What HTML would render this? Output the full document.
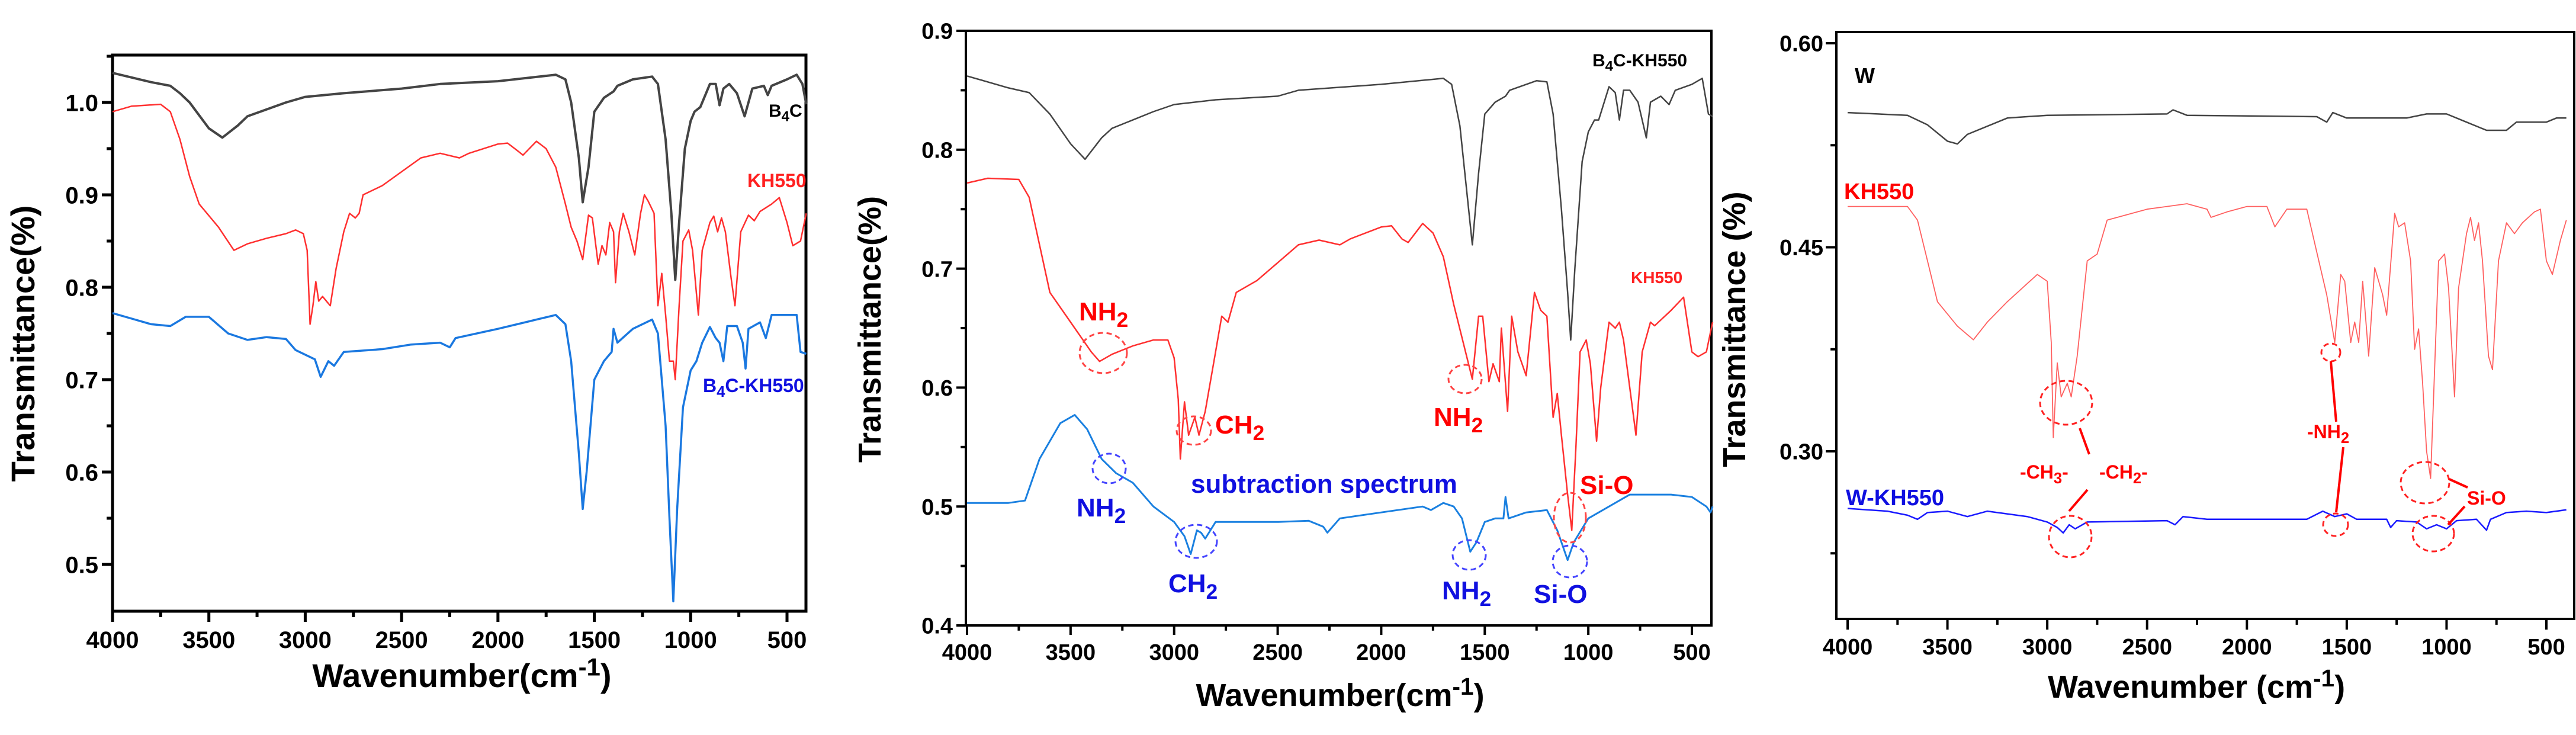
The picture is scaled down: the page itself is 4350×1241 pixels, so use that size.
<!DOCTYPE html>
<html><head><meta charset="utf-8"><style>
html,body{margin:0;padding:0;background:#fff}
svg{display:block}
text{font-family:"Liberation Sans",sans-serif;font-weight:bold}
</style></head><body>
<svg id="fig" xmlns="http://www.w3.org/2000/svg" width="4350" height="1241" viewBox="0 0 4350 1241">
<g id="p1"></g>
<g id="p2"></g>
<g id="p3"></g>
</svg>
<script>
// ---------- data ----------
const xTicks = [4000,3500,3000,2500,2000,1500,1000,500];
const p1YTicks = [0.5,0.6,0.7,0.8,0.9,1.0];
const p1YLabels = ["0.5","0.6","0.7","0.8","0.9","1.0"];
const p2YTicks = [0.4,0.5,0.6,0.7,0.8,0.9];
const p2YLabels = ["0.4","0.5","0.6","0.7","0.8","0.9"];
const p3YTicks = [0.30,0.45,0.60];
const p3YLabels = ["0.30","0.45","0.60"];

const p1B4C = [[4000,1.032],[3800,1.022],[3700,1.018],[3650,1.01],[3600,1.0],[3500,0.972],[3430,0.962],[3350,0.975],[3300,0.985],[3100,1.0],[3000,1.006],[2800,1.01],[2500,1.015],[2300,1.02],[2000,1.023],[1700,1.03],[1650,1.025],[1620,1.0],[1580,0.94],[1560,0.892],[1530,0.93],[1500,0.99],[1450,1.005],[1400,1.012],[1380,1.018],[1300,1.025],[1200,1.028],[1170,1.02],[1130,0.96],[1100,0.88],[1080,0.808],[1060,0.87],[1030,0.95],[1000,0.98],[980,0.99],[950,0.995],[900,1.02],[870,1.02],[850,0.997],[830,1.015],[800,1.02],[760,1.01],[720,0.985],[700,1.0],[680,1.015],[620,1.018],[600,1.008],[580,1.018],[500,1.025],[450,1.03],[420,1.02],[400,0.998]];
const p1KH = [[4000,0.99],[3900,0.996],[3750,0.998],[3700,0.99],[3650,0.96],[3600,0.92],[3550,0.89],[3450,0.865],[3370,0.84],[3300,0.847],[3200,0.853],[3100,0.858],[3050,0.862],[3010,0.858],[2990,0.84],[2975,0.76],[2960,0.78],[2945,0.806],[2930,0.785],[2910,0.79],[2890,0.785],[2870,0.78],[2840,0.82],[2800,0.86],[2770,0.88],[2740,0.875],[2720,0.88],[2700,0.9],[2600,0.91],[2500,0.925],[2400,0.94],[2300,0.945],[2200,0.94],[2150,0.945],[2000,0.955],[1950,0.956],[1900,0.948],[1870,0.943],[1800,0.958],[1750,0.95],[1700,0.93],[1650,0.89],[1620,0.865],[1590,0.85],[1560,0.83],[1530,0.878],[1510,0.875],[1480,0.825],[1460,0.845],[1440,0.835],[1420,0.87],[1400,0.86],[1390,0.805],[1370,0.86],[1350,0.88],[1320,0.86],[1290,0.835],[1260,0.88],[1240,0.9],[1220,0.893],[1190,0.88],[1170,0.78],[1150,0.815],[1130,0.77],[1110,0.72],[1090,0.72],[1080,0.7],[1060,0.78],[1040,0.85],[1010,0.862],[990,0.84],[960,0.77],[940,0.84],[900,0.87],[880,0.877],[860,0.86],[840,0.875],[820,0.86],[790,0.81],[770,0.78],[740,0.86],[700,0.878],[670,0.872],[640,0.882],[580,0.89],[540,0.897],[500,0.87],[470,0.845],[430,0.85],[400,0.88]];
const p1Mix = [[4000,0.772],[3900,0.766],[3800,0.76],[3700,0.758],[3620,0.768],[3500,0.768],[3400,0.75],[3300,0.743],[3200,0.746],[3100,0.744],[3050,0.732],[2950,0.722],[2920,0.703],[2880,0.72],[2850,0.715],[2800,0.73],[2600,0.733],[2450,0.738],[2300,0.74],[2250,0.735],[2220,0.745],[2000,0.755],[1800,0.765],[1700,0.77],[1650,0.76],[1620,0.72],[1580,0.62],[1560,0.56],[1540,0.6],[1500,0.7],[1450,0.72],[1410,0.73],[1400,0.755],[1380,0.74],[1300,0.755],[1200,0.765],[1170,0.75],[1130,0.65],[1110,0.55],[1090,0.46],[1070,0.56],[1040,0.67],[1000,0.71],[970,0.72],[940,0.74],[900,0.757],[870,0.745],[850,0.74],[830,0.72],[810,0.758],[760,0.758],[730,0.74],[715,0.712],[700,0.755],[640,0.762],[610,0.745],[580,0.77],[500,0.77],[450,0.77],[430,0.73],[400,0.728]];

const p2Mix = [[4000,0.862],[3800,0.852],[3700,0.848],[3600,0.83],[3500,0.805],[3430,0.792],[3350,0.81],[3300,0.818],[3100,0.832],[3000,0.838],[2800,0.842],[2500,0.845],[2400,0.85],[2000,0.855],[1700,0.86],[1660,0.855],[1620,0.82],[1590,0.77],[1560,0.72],[1530,0.78],[1500,0.83],[1450,0.84],[1400,0.845],[1380,0.85],[1250,0.858],[1200,0.857],[1170,0.83],[1130,0.75],[1100,0.68],[1085,0.64],[1065,0.7],[1030,0.79],[1000,0.815],[970,0.825],[950,0.825],[900,0.853],[870,0.848],[850,0.825],[830,0.85],[800,0.85],[760,0.84],[720,0.81],[700,0.84],[650,0.845],[610,0.838],[580,0.85],[500,0.855],[450,0.86],[420,0.83],[400,0.828]];
const p2KH = [[4000,0.772],[3900,0.776],[3750,0.775],[3700,0.76],[3650,0.72],[3600,0.68],[3500,0.655],[3400,0.63],[3360,0.622],[3300,0.628],[3200,0.635],[3100,0.64],[3030,0.64],[3000,0.625],[2980,0.59],[2970,0.54],[2950,0.588],[2930,0.56],[2900,0.575],[2880,0.56],[2850,0.58],[2800,0.63],[2770,0.66],[2740,0.655],[2700,0.68],[2600,0.69],[2500,0.705],[2400,0.72],[2300,0.724],[2200,0.72],[2150,0.725],[2000,0.735],[1950,0.736],[1900,0.725],[1870,0.722],[1800,0.738],[1750,0.73],[1700,0.71],[1650,0.67],[1600,0.635],[1560,0.607],[1530,0.66],[1510,0.66],[1480,0.605],[1460,0.62],[1430,0.605],[1420,0.65],[1390,0.58],[1370,0.66],[1340,0.63],[1300,0.61],[1260,0.68],[1230,0.665],[1200,0.66],[1170,0.575],[1150,0.595],[1130,0.56],[1100,0.51],[1080,0.48],[1060,0.55],[1040,0.63],[1010,0.64],[990,0.62],[960,0.555],[940,0.6],[900,0.655],[870,0.65],[850,0.655],[830,0.64],[800,0.6],[770,0.56],[740,0.63],[700,0.655],[680,0.652],[600,0.665],[540,0.676],[500,0.63],[470,0.626],[430,0.63],[400,0.655]];
const p2Sub = [[4000,0.503],[3800,0.503],[3720,0.505],[3650,0.54],[3550,0.57],[3480,0.577],[3420,0.565],[3350,0.54],[3280,0.528],[3200,0.52],[3100,0.5],[3000,0.487],[2950,0.475],[2920,0.46],[2890,0.48],[2870,0.478],[2850,0.473],[2800,0.487],[2500,0.487],[2350,0.488],[2280,0.483],[2260,0.478],[2200,0.49],[2000,0.495],[1800,0.5],[1760,0.497],[1700,0.503],[1650,0.5],[1610,0.49],[1570,0.462],[1540,0.47],[1500,0.487],[1450,0.49],[1410,0.49],[1400,0.508],[1385,0.49],[1300,0.495],[1200,0.497],[1150,0.48],[1100,0.455],[1070,0.47],[1000,0.49],[900,0.5],[800,0.51],[700,0.51],[600,0.51],[500,0.508],[430,0.5],[410,0.495],[400,0.5]];

const p3W = [[4000,0.549],[3700,0.547],[3600,0.54],[3500,0.528],[3450,0.526],[3400,0.533],[3200,0.545],[3000,0.547],[2400,0.548],[2370,0.551],[2300,0.547],[1650,0.546],[1600,0.542],[1570,0.549],[1500,0.545],[1200,0.545],[1100,0.548],[1000,0.548],[900,0.542],[800,0.536],[700,0.536],[650,0.542],[500,0.542],[450,0.545],[400,0.545]];
const p3KH = [[4000,0.48],[3700,0.48],[3650,0.47],[3600,0.44],[3550,0.41],[3450,0.392],[3370,0.382],[3300,0.395],[3200,0.41],[3050,0.43],[3000,0.425],[2980,0.38],[2970,0.31],[2950,0.365],[2930,0.34],[2900,0.35],[2880,0.34],[2850,0.37],[2800,0.44],[2750,0.445],[2700,0.47],[2500,0.478],[2400,0.48],[2300,0.482],[2200,0.478],[2180,0.472],[2100,0.476],[2000,0.48],[1900,0.48],[1860,0.465],[1800,0.478],[1700,0.478],[1640,0.44],[1600,0.415],[1560,0.38],[1530,0.43],[1510,0.425],[1480,0.38],[1460,0.395],[1440,0.38],[1420,0.425],[1390,0.37],[1360,0.435],[1320,0.415],[1300,0.4],[1260,0.475],[1240,0.465],[1210,0.468],[1180,0.44],[1160,0.375],[1140,0.39],[1120,0.35],[1100,0.3],[1080,0.28],[1060,0.36],[1040,0.44],[1010,0.445],[990,0.42],[960,0.34],[940,0.42],[900,0.46],[880,0.472],[860,0.455],[840,0.468],[820,0.44],[790,0.37],[770,0.36],[740,0.44],[700,0.468],[660,0.46],[620,0.468],[560,0.476],[530,0.478],[500,0.44],[470,0.43],[430,0.455],[400,0.47]];
const p3WK = [[4000,0.258],[3800,0.256],[3700,0.253],[3650,0.25],[3600,0.255],[3500,0.256],[3400,0.252],[3300,0.256],[3100,0.252],[3000,0.248],[2950,0.244],[2920,0.24],[2890,0.246],[2860,0.243],[2800,0.248],[2400,0.249],[2360,0.246],[2320,0.252],[2200,0.25],[1700,0.25],[1620,0.256],[1560,0.252],[1500,0.254],[1450,0.25],[1300,0.25],[1280,0.244],[1250,0.249],[1150,0.248],[1100,0.243],[1050,0.246],[1000,0.243],[950,0.249],[850,0.25],[800,0.242],[780,0.25],[700,0.255],[600,0.256],[500,0.255],[400,0.257]];

// ---------- helpers ----------
const NS='http://www.w3.org/2000/svg';
function mk(parent,tag,attrs,txt){const e=document.createElementNS(NS,tag);for(const k in attrs)e.setAttribute(k,attrs[k]);if(txt!==undefined)e.textContent=txt;parent.appendChild(e);return e;}
function scale(d0,d1,r0,r1){return v=>r0+(v-d0)*(r1-r0)/(d1-d0);}

function axes(g,c){
  const X=c.X,Y=c.Y;
  const frame=mk(g,'rect',{x:c.L,y:c.T,width:c.R-c.L,height:c.B-c.T,fill:'none',stroke:'#000','stroke-width':c.sw});
  
  
  xTicks.forEach(t=>{
    const x=X(t);
    const tk=mk(g,'line',{x1:x,x2:x,y1:c.B,y2:c.B+c.tl,stroke:'#000','stroke-width':c.sw});
    
    
    const lb=mk(g,'text',{x:x,y:c.B+c.xlo,'text-anchor':'middle','font-size':c.fs},String(t));
    
    
    const xm=X(t-250);
    if(xm<=c.R){const m=mk(g,'line',{x1:xm,x2:xm,y1:c.B,y2:c.B+c.tl*0.55,stroke:'#000','stroke-width':c.sw});
      
      }
  });
  c.yt.forEach((t,i)=>{
    const y=Y(t);
    const tk=mk(g,'line',{x1:c.L-c.tl,x2:c.L,y1:y,y2:y,stroke:'#000','stroke-width':c.sw});
    
    
    const lb=mk(g,'text',{x:c.L-c.ylo,y:y+c.fs*0.36,'text-anchor':'end','font-size':c.fs},c.yl[i]);
    
    
  });
  c.ym.forEach(t=>{const y=Y(t);if(y<c.T||y>c.B)return;
    const m=mk(g,'line',{x1:c.L-c.tl*0.55,x2:c.L,y1:y,y2:y,stroke:'#000','stroke-width':c.sw});
    
    });
}
function series(g,c,data,color,w,name){
  const d=data.map((p,i)=>(i?'L':'M')+c.X(p[0]).toFixed(1)+' '+c.Y(p[1]).toFixed(1)).join(' ');
  const p=mk(g,'path',{d:d,fill:'none',stroke:color,'stroke-width':w,'stroke-linejoin':'round'});
  
  
}
function label(g,x,y,fs,color,main,sub,tail,name,anchor){
  const t=mk(g,'text',{x:x,y:y,'font-size':fs,fill:color,'text-anchor':anchor||'start'});
  
  
  mk(t,'tspan',{},main);
  if(sub){mk(t,'tspan',{dy:fs*0.25,'font-size':fs*0.8},sub);}
  if(tail){mk(t,'tspan',{dy:sub?-fs*0.25:0},tail);}
  return t;
}
function circ(g,cx,cy,rx,ry,color,name){
  const e=mk(g,'ellipse',{cx:cx,cy:cy,rx:rx,ry:ry,fill:'none',stroke:color,'stroke-width':3,'stroke-dasharray':'9 6'});
  
  
}
function seg(g,x1,y1,x2,y2,name){
  const l=mk(g,'line',{x1:x1,y1:y1,x2:x2,y2:y2,stroke:'#f00','stroke-width':4});
  
  
}
function titles(g,xt,yt,fs,xtext,ytext){
  const xtl=mk(g,'text',{x:xt[0],y:xt[1],'text-anchor':'middle','font-size':fs});
  
  
  mk(xtl,'tspan',{},xtext);mk(xtl,'tspan',{dy:-fs*0.35,'font-size':fs*0.75},'-1');mk(xtl,'tspan',{dy:fs*0.35},')');
  const ytl=mk(g,'text',{x:0,y:0,'text-anchor':'middle','font-size':fs,transform:`translate(${yt[0]},${yt[1]}) rotate(-90)`},ytext);
  
  
}

// ---------- panel 1 ----------
(function(){
  const g=document.getElementById('p1');
  const c={L:190,R:1361,T:93,B:1032,sw:5,tl:18,fs:40,xlo:62,ylo:24,yt:p1YTicks,yl:p1YLabels,ym:[0.55,0.65,0.75,0.85,0.95,1.05]};
  c.X=scale(4000,500,190,1329);c.Y=scale(1.0,0.5,173,953);
  axes(g,c);
  series(g,c,p1B4C,'#444',4,'series-b4c');
  series(g,c,p1KH,'#ff3030',2.5,'series-kh550');
  series(g,c,p1Mix,'#1a78e0',3.5,'series-b4c-kh550');
  label(g,1298,197,30,'#000','B','4','C','label-b4c');
  label(g,1262,316,32,'#ff2020','KH550','','','label-kh550');
  label(g,1187,662,32,'#1010e0','B','4','C-KH550','label-b4c-kh550');
  titles(g,[780,1160],[58,580],56,'Wavenumber(cm','Transmittance(%)');
})();

// ---------- panel 2 ----------
(function(){
  const g=document.getElementById('p2');
  const c={L:1631,R:2890,T:52,B:1056,sw:4,tl:16,fs:38,xlo:58,ylo:22,yt:p2YTicks,yl:p2YLabels,ym:[0.45,0.55,0.65,0.75,0.85]};
  c.X=scale(4000,500,1633,2857);c.Y=scale(0.9,0.4,52,1056);
  axes(g,c);
  series(g,c,p2Mix,'#444',2.5,'series-b4c-kh550');
  series(g,c,p2KH,'#ff3030',2.5,'series-kh550');
  series(g,c,p2Sub,'#1a80e0',3,'series-subtraction');
  label(g,2689,112,30,'#000','B','4','C-KH550','label-b4c-kh550');
  label(g,2754,478,28,'#ff2020','KH550','','','label-kh550');
  label(g,1822,541,44,'#f00','NH','2','','annot-nh2-red-1');
  circ(g,1863,596,40,34,'#f44','circle-nh2-red-1');
  label(g,2052,732,44,'#f00','CH','2','','annot-ch2-red');
  circ(g,2016,727,29,24,'#f44','circle-ch2-red');
  label(g,2421,719,44,'#f00','NH','2','','annot-nh2-red-2');
  circ(g,2474,640,28,24,'#f44','circle-nh2-red-2');
  label(g,2668,834,44,'#f00','Si-O','','','annot-sio-red');
  circ(g,2651,874,27,42,'#f44','circle-sio-red');
  label(g,1818,872,44,'#1010e0','NH','2','','annot-nh2-blue-1');
  circ(g,1873,791,28,25,'#44f','circle-nh2-blue-1');
  label(g,2011,832,44,'#1010e0','subtraction spectrum','','','annot-subtraction');
  label(g,1973,1000,44,'#1010e0','CH','2','','annot-ch2-blue');
  circ(g,2020,914,35,28,'#44f','circle-ch2-blue');
  label(g,2435,1012,44,'#1010e0','NH','2','','annot-nh2-blue-2');
  circ(g,2481,937,28,25,'#44f','circle-nh2-blue-2');
  label(g,2590,1018,44,'#1010e0','Si-O','','','annot-sio-blue');
  circ(g,2651,948,29,27,'#44f','circle-sio-blue');
  titles(g,[2263,1192],[1487,556],54,'Wavenumber(cm','Transmittance(%)');
})();

// ---------- panel 3 ----------
(function(){
  const g=document.getElementById('p3');
  const c={L:3101,R:4347,T:54,B:1045,sw:4,tl:18,fs:38,xlo:60,ylo:22,yt:p3YTicks,yl:p3YLabels,ym:[0.225,0.375,0.525]};
  c.X=scale(4000,500,3120,4300);c.Y=scale(0.60,0.30,73,762);
  axes(g,c);
  series(g,c,p3W,'#444',2.5,'series-w');
  series(g,c,p3KH,'#ff6060',1.8,'series-kh550');
  series(g,c,p3WK,'#1a1aff',2.5,'series-w-kh550');
  label(g,3132,140,36,'#000','W','','','label-w');
  label(g,3114,336,38,'#f00','KH550','','','label-kh550');
  label(g,3117,853,38,'#1010e0','W-KH550','','','label-w-kh550');
  circ(g,3489,680,44,37,'#f22','circle-ch-red');
  circ(g,3496,906,36,35,'#f22','circle-ch-blue');
  circ(g,3936,595,16,15,'#f22','circle-nh2-red');
  circ(g,3944,886,21,19,'#f22','circle-nh2-blue');
  circ(g,4095,815,41,35,'#f22','circle-sio-red');
  circ(g,4109,901,35,30,'#f22','circle-sio-blue');
  label(g,3411,808,32,'#f00','-CH','3','-','annot-ch3');
  label(g,3545,808,32,'#f00','-CH','2','-','annot-ch2');
  label(g,3896,740,32,'#f00','-NH','2','','annot-nh2');
  label(g,4166,852,32,'#f00','Si-O','','','annot-sio');
  seg(g,3512,723,3528,767,'leader-ch-1');
  seg(g,3525,827,3494,863,'leader-ch-2');
  seg(g,3936,610,3945,712,'leader-nh2-1');
  seg(g,3957,755,3945,865,'leader-nh2-2');
  seg(g,4136,809,4167,823,'leader-sio-1');
  seg(g,4162,855,4134,886,'leader-sio-2');
  titles(g,[3709,1178],[2947,556],54,'Wavenumber  (cm','Transmittance  (%)');
})();
</script>
</body></html>
